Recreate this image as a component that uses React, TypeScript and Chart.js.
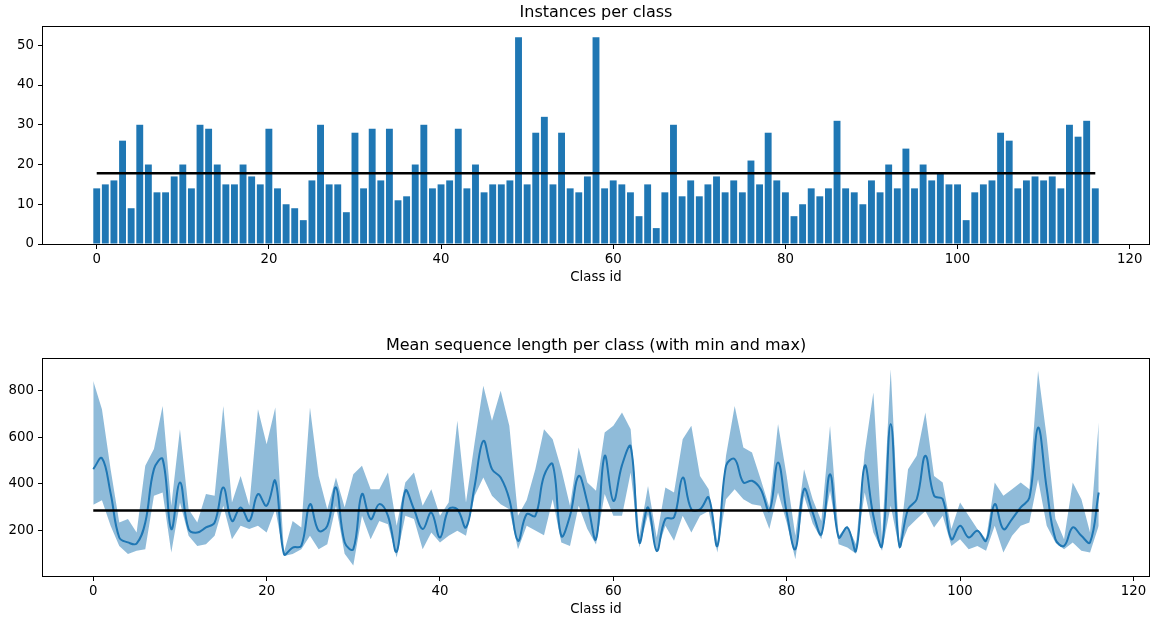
import React, { useEffect, useRef } from "react";
import { Chart, registerables } from "chart.js";

Chart.register(...registerables);

// ---------- data ----------
const COUNTS = [
  14, 15, 16, 26, 9, 30, 20, 13, 13, 17,
  20, 14, 30, 29, 20, 15, 15, 20, 17, 15,
  29, 14, 10, 9, 6, 16, 30, 15, 15, 8,
  28, 14, 29, 16, 29, 11, 12, 20, 30, 14,
  15, 16, 29, 14, 20, 13, 15, 15, 16, 52,
  15, 28, 32, 15, 28, 14, 13, 17, 52, 14,
  16, 15, 13, 7, 15, 4, 13, 30, 12, 16,
  12, 15, 17, 13, 16, 13, 21, 15, 28, 16,
  13, 7, 10, 14, 12, 14, 31, 14, 13, 10,
  16, 13, 20, 14, 24, 14, 20, 16, 18, 15,
  15, 6, 13, 15, 16, 28, 26, 14, 16, 17,
  16, 17, 14, 30, 27, 31, 14,
];

const LEN_MEAN = [
  463, 510, 360, 170, 149, 144, 234, 463, 506, 206,
  406, 206, 191, 213, 234, 384, 241, 299, 241, 356,
  306, 413, 99, 127, 134, 313, 199, 220, 384, 150,
  120, 356, 249, 313, 263, 109, 370, 291, 206, 277,
  170, 291, 291, 213, 391, 584, 463, 427, 334, 156,
  270, 263, 434, 484, 177, 263, 434, 320, 163, 520,
  327, 480, 560, 149, 299, 113, 249, 256, 427, 291,
  291, 341, 134, 477, 506, 406, 413, 377, 284, 491,
  277, 120, 377, 277, 184, 441, 170, 213, 113, 477,
  263, 134, 656, 134, 291, 334, 520, 349, 334, 163,
  220, 170, 199, 156, 313, 206, 249, 299, 340, 641,
  380, 163, 134, 213, 177, 149, 363,
];

const LEN_MAX = [
  841, 720, 463, 234, 249, 191, 477, 549, 734, 306,
  634, 291, 234, 356, 349, 734, 320, 434, 306, 720,
  570, 727, 106, 241, 213, 727, 434, 291, 427, 300,
  441, 477, 377, 377, 449, 220, 406, 449, 306, 377,
  263, 320, 670, 320, 577, 820, 670, 799, 649, 263,
  330, 463, 634, 591, 463, 306, 556, 406, 370, 620,
  649, 706, 634, 177, 391, 170, 384, 363, 591, 649,
  434, 377, 150, 520, 734, 556, 534, 420, 300, 656,
  434, 177, 463, 334, 241, 649, 177, 220, 141, 534,
  791, 160, 891, 141, 463, 520, 706, 434, 406, 206,
  320, 263, 206, 163, 406, 349, 377, 406, 377, 884,
  600, 250, 163, 406, 334, 191, 663,
];

const LEN_MIN = [
  310, 330, 220, 134, 99, 113, 120, 349, 363, 106,
  320, 177, 134, 141, 177, 306, 163, 220, 206, 220,
  191, 291, 91, 99, 120, 177, 120, 141, 306, 100,
  50, 263, 163, 241, 227, 84, 263, 249, 120, 191,
  149, 177, 199, 177, 349, 427, 349, 313, 291, 120,
  220, 200, 180, 334, 149, 134, 306, 206, 140, 356,
  263, 263, 449, 127, 270, 106, 220, 156, 263, 191,
  263, 284, 106, 334, 377, 334, 313, 306, 206, 363,
  234, 77, 349, 230, 163, 370, 141, 127, 100, 363,
  191, 113, 306, 120, 213, 249, 284, 213, 263, 134,
  163, 120, 134, 113, 220, 106, 177, 220, 234, 420,
  220, 149, 120, 149, 113, 106, 220,
];

const MEAN_COUNT = 17.8;
const MEAN_LENGTH = 286;
const X_TICKS = [0, 20, 40, 60, 80, 100, 120];
const TOP_Y_TICKS = [0, 10, 20, 30, 40, 50];
const BOTTOM_Y_TICKS = [200, 400, 600, 800];

const TOP_TITLE = "Instances per class";
const BOTTOM_TITLE = "Mean sequence length per class (with min and max)";
const X_LABEL = "Class id";

// ---------- helpers ----------
const FONT = "'DejaVu Sans', 'Liberation Sans', sans-serif";
const BLUE = "#1f77b4";

function pts(values: number[]) {
  return values.map((v, i) => ({ x: i, y: v }));
}

function xScale(min: number, max: number, height: number) {
  return {
    type: "linear",
    min,
    max,
    offset: false,
    afterBuildTicks: (s: any) => {
      s.ticks = X_TICKS.map((v) => ({ value: v }));
    },
    afterFit: (s: any) => {
      s.height = height;
    },
    grid: {
      display: true,
      offset: false,
      drawOnChartArea: false,
      drawTicks: true,
      tickLength: 5,
      color: "#000",
      lineWidth: 1,
    },
    border: { display: false },
    ticks: {
      color: "#000",
      font: { size: 13.3, family: FONT },
      padding: 3,
      maxRotation: 0,
      autoSkip: false,
    },
  };
}

function yScale(min: number, max: number, tickVals: number[]) {
  return {
    type: "linear",
    min,
    max,
    afterBuildTicks: (s: any) => {
      s.ticks = tickVals.map((v) => ({ value: v }));
    },
    afterFit: (s: any) => {
      s.width = 43;
    },
    grid: {
      display: true,
      drawOnChartArea: false,
      drawTicks: true,
      tickLength: 5,
      color: "#000",
      lineWidth: 1,
    },
    border: { display: false },
    ticks: {
      color: "#000",
      font: { size: 13.3, family: FONT },
      padding: 4,
      autoSkip: false,
    },
  };
}

function textPlugin(title: string, titleY: number, labelY: number) {
  return {
    id: "textFrame",
    afterDraw(chart: any) {
      const { ctx, chartArea } = chart;
      const { left, right, top, bottom } = chartArea;
      ctx.save();
      ctx.strokeStyle = "#000";
      ctx.lineWidth = 1;
      ctx.strokeRect(
        Math.round(left) - 0.5,
        Math.round(top) - 0.5,
        Math.round(right - left) + 1,
        Math.round(bottom - top) + 1
      );
      const cx = (left + right) / 2;
      ctx.fillStyle = "#000";
      ctx.textAlign = "center";
      ctx.textBaseline = "middle";
      ctx.font = `16px ${FONT}`;
      ctx.fillText(title, cx, titleY);
      ctx.font = `13.3px ${FONT}`;
      ctx.fillText(X_LABEL, cx, labelY);
      ctx.restore();
    },
  };
}

export default function App() {
  const topRef = useRef<HTMLCanvasElement | null>(null);
  const botRef = useRef<HTMLCanvasElement | null>(null);

  useEffect(() => {
    Chart.defaults.font.family = FONT;
    const ids = COUNTS.map((_, i) => i);
    const last = ids[ids.length - 1];

    const top = new Chart(topRef.current as HTMLCanvasElement, {
      type: "bar",
      data: {
        datasets: [
          {
            type: "line",
            data: [
              { x: 0, y: MEAN_COUNT },
              { x: last, y: MEAN_COUNT },
            ],
            borderColor: "#000",
            borderWidth: 2.6,
            pointRadius: 0,
            order: 0,
          } as any,
          {
            type: "bar",
            data: pts(COUNTS),
            backgroundColor: BLUE,
            borderWidth: 0,
            barPercentage: 0.8,
            categoryPercentage: 1,
            order: 1,
          } as any,
        ],
      },
      options: {
        responsive: false,
        animation: false,
        layout: { padding: { top: 27, right: 1, left: 0, bottom: 0 } },
        plugins: {
          legend: { display: false },
          title: { display: false },
          tooltip: { enabled: false },
        },
        scales: {
          x: xScale(-6.24, 122.24, 66) as any,
          y: yScale(0, 54.6, TOP_Y_TICKS) as any,
        },
      },
      plugins: [textPlugin(TOP_TITLE, 13, 278)],
    });

    const bottom = new Chart(botRef.current as HTMLCanvasElement, {
      type: "line",
      data: {
        datasets: [
          {
            data: [
              { x: 0, y: MEAN_LENGTH },
              { x: last, y: MEAN_LENGTH },
            ],
            borderColor: "#000",
            borderWidth: 2.6,
            pointRadius: 0,
            fill: false,
            order: 0,
          },
          {
            data: pts(LEN_MEAN),
            borderColor: BLUE,
            borderWidth: 2,
            pointRadius: 0,
            tension: 0.4,
            fill: false,
            order: 1,
          },
          {
            data: pts(LEN_MAX),
            borderWidth: 0,
            borderColor: "rgba(0,0,0,0)",
            backgroundColor: "rgba(31,119,180,0.5)",
            pointRadius: 0,
            tension: 0,
            fill: "+1",
            order: 2,
          },
          {
            data: pts(LEN_MIN),
            borderWidth: 0,
            borderColor: "rgba(0,0,0,0)",
            pointRadius: 0,
            tension: 0,
            fill: false,
            order: 3,
          },
        ] as any,
      },
      options: {
        responsive: false,
        animation: false,
        layout: { padding: { top: 49, right: 1, left: 0, bottom: 0 } },
        plugins: {
          legend: { display: false },
          title: { display: false },
          tooltip: { enabled: false },
        },
        scales: {
          x: xScale(-5.8, 121.8, 43) as any,
          y: yScale(5, 935, BOTTOM_Y_TICKS) as any,
        },
      },
      plugins: [textPlugin(BOTTOM_TITLE, 36, 300)],
    });

    return () => {
      top.destroy();
      bottom.destroy();
    };
  }, []);

  return (
    <div
      style={{
        position: "absolute",
        left: 0,
        top: 0,
        width: 1150,
        height: 619,
        background: "#fff",
      }}
    >
      <canvas
        ref={topRef}
        width={1150}
        height={310}
        style={{ display: "block", width: 1150, height: 310 }}
      />
      <canvas
        ref={botRef}
        width={1150}
        height={309}
        style={{ display: "block", width: 1150, height: 309 }}
      />
    </div>
  );
}
